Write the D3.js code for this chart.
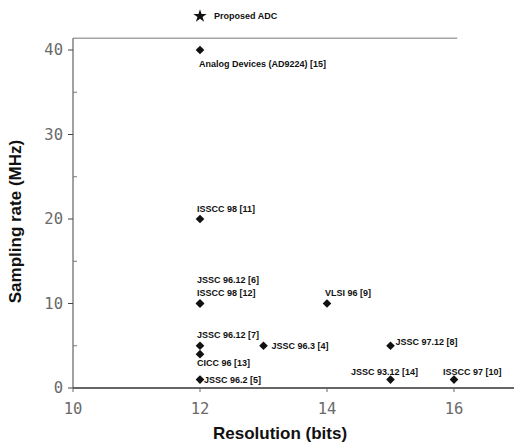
<!DOCTYPE html>
<meta charset="utf-8">
<script src="https://d3js.org/d3.v7.min.js"></script>
<style>
  body { margin: 0; background: #fff; }
  .tick-label { font-family: "DejaVu Sans Mono", monospace; font-size: 15.5px; fill: #6a6a6a; }
  .axis-title { font-family: "Liberation Sans", Arial, sans-serif; font-weight: bold; font-size: 17px; fill: #111; }
  .pt-label { font-family: "Liberation Sans", Arial, sans-serif; font-weight: bold; font-size: 9px; fill: #111; }
</style>
<div id="chart"></div>
<script>
  // data
  const labels = ["Analog Devices (AD9224) [15]", "ISSCC 98 [11]", "JSSC 96.12 [6]", "ISSCC 98 [12]",
    "VLSI 96 [9]", "JSSC 96.12 [7]", "CICC 96 [13]", "JSSC 96.2 [5]", "JSSC 96.3 [4]",
    "JSSC 97.12 [8]", "JSSC 93.12 [14]", "ISSCC 97 [10]"];
  const resolution = [12, 12, 12, 12, 14, 12, 12, 12, 13, 15, 15, 16];
  const rate = [40, 20, 10, 10, 10, 5, 4, 1, 5, 5, 1, 1];
  const proposed = { label: "Proposed ADC", resolution: 12, rate: 44 };
  const xTicks = [10, 12, 14, 16];
  const yTicks = [0, 10, 20, 30, 40];
  const yMinor = [5, 15, 25, 35];

  // label placement relative to marker: [dx, dy, anchor]
  const labelOffsets = [
    [-1, 17, "start"], [-3, -7, "start"], [-3, -21, "start"], [-3, -8, "start"],
    [-2, -8, "start"], [-3, -8, "start"], [-3, 12, "start"], [4, 3, "start"],
    [8, 3, "start"], [5, -1, "start"], [-6, -5, "middle"], [-11, -5, "start"]
  ];

  const W = 514, H = 444;
  const svg = d3.select("#chart").append("svg")
    .attr("width", W).attr("height", H);

  const x = d3.scaleLinear().domain([10, 17]).range([73, 517.5]);
  const y = d3.scaleLinear().domain([0, 40]).range([388, 50]);

  // frame
  svg.append("line")
    .attr("x1", x(10)).attr("x2", W).attr("y1", y(0)).attr("y2", y(0))
    .attr("stroke", "#333").attr("stroke-width", 1.5);
  svg.append("line")
    .attr("x1", x(10)).attr("x2", x(10)).attr("y1", y(0)).attr("y2", y(41.4))
    .attr("stroke", "#444").attr("stroke-width", 1);
  svg.append("line")
    .attr("x1", x(10)).attr("x2", x(16.05)).attr("y1", y(41.4)).attr("y2", y(41.4))
    .attr("stroke", "#777").attr("stroke-width", 1);

  // y ticks
  svg.selectAll(".ytick").data(yTicks).enter().append("line")
    .attr("x1", x(10) - 5).attr("x2", x(10)).attr("y1", d => y(d)).attr("y2", d => y(d))
    .attr("stroke", "#444");
  svg.selectAll(".yminor").data(yMinor).enter().append("line")
    .attr("x1", x(10)).attr("x2", x(10) + 4).attr("y1", d => y(d)).attr("y2", d => y(d))
    .attr("stroke", "#777");
  svg.selectAll(".ylab").data(yTicks).enter().append("text")
    .attr("class", "tick-label")
    .attr("x", x(10) - 10).attr("y", d => y(d)).attr("dy", "0.35em")
    .attr("text-anchor", "end")
    .text(d => d);

  // x ticks
  svg.selectAll(".xtick").data(xTicks).enter().append("line")
    .attr("x1", d => x(d)).attr("x2", d => x(d)).attr("y1", y(0)).attr("y2", y(0) + 4)
    .attr("stroke", "#666");
  svg.selectAll(".xlab").data(xTicks).enter().append("text")
    .attr("class", "tick-label")
    .attr("x", d => x(d)).attr("y", y(0) + 26)
    .attr("text-anchor", "middle")
    .text(d => d);

  // axis titles
  svg.append("text").attr("class", "axis-title")
    .attr("x", x(13.26)).attr("y", 439)
    .attr("text-anchor", "middle")
    .text("Resolution (bits)");
  svg.append("text").attr("class", "axis-title")
    .attr("transform", `translate(21, ${y(19.7)}) rotate(-90)`)
    .attr("text-anchor", "middle")
    .text("Sampling rate (MHz)");

  // points
  const pts = labels.map((l, i) => ({ label: l, res: resolution[i], rate: rate[i], off: labelOffsets[i] }));
  const diamond = d3.symbol().type(d3.symbolDiamond2 || d3.symbolDiamond).size(48);

  svg.selectAll(".pt").data(pts).enter().append("path")
    .attr("d", diamond)
    .attr("transform", d => `translate(${x(d.res)}, ${y(d.rate)})`)
    .attr("fill", "#111");

  svg.selectAll(".pt-label").data(pts).enter().append("text")
    .attr("class", "pt-label")
    .attr("x", d => x(d.res) + d.off[0])
    .attr("y", d => y(d.rate) + d.off[1])
    .attr("text-anchor", d => d.off[2])
    .text(d => d.label);

  // proposed ADC
  svg.append("path")
    .attr("d", d3.symbol().type(d3.symbolStar).size(55))
    .attr("transform", `translate(${x(proposed.resolution)}, ${y(proposed.rate)})`)
    .attr("fill", "#111");
  svg.append("text").attr("class", "pt-label")
    .attr("x", x(proposed.resolution) + 14).attr("y", y(proposed.rate) + 3)
    .text(proposed.label);
</script>
